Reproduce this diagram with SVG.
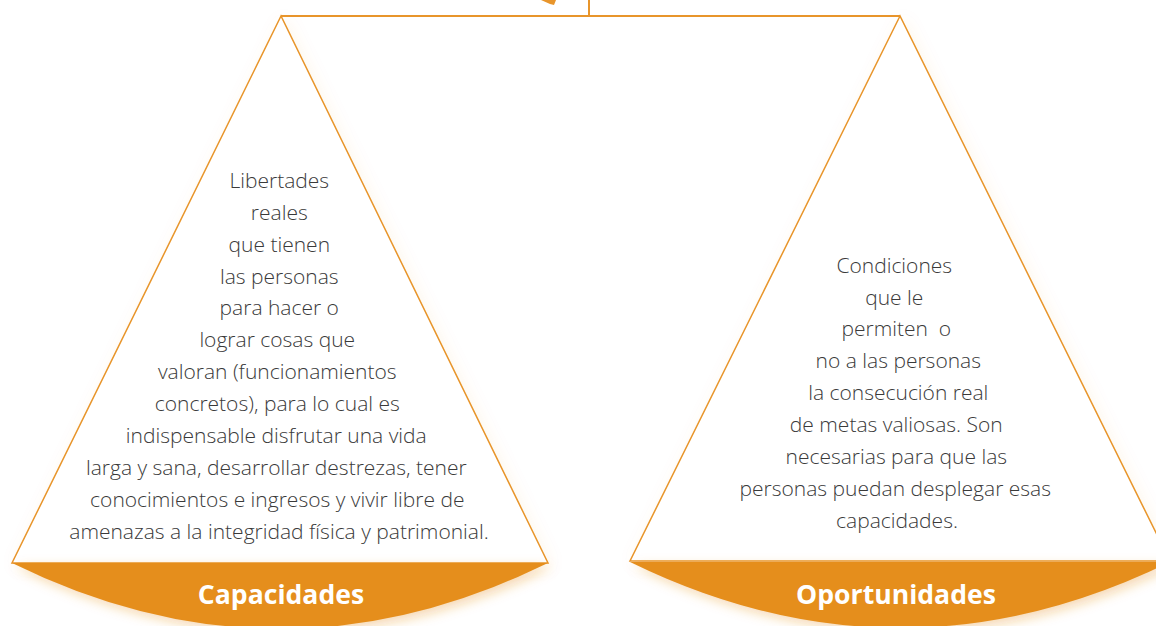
<svg xmlns="http://www.w3.org/2000/svg" width="1156" height="626" viewBox="0 0 1156 626">
  <defs>
    <filter id="shadow" x="-20%" y="-20%" width="140%" height="160%">
      <feGaussianBlur in="SourceAlpha" stdDeviation="6"/>
      <feOffset dx="4" dy="4" result="b"/>
      <feFlood flood-color="#e58e1c" flood-opacity="0.35"/>
      <feComposite in2="b" operator="in"/>
      <feMerge><feMergeNode/><feMergeNode in="SourceGraphic"/></feMerge>
    </filter>
    <filter id="glow" x="-10%" y="-10%" width="120%" height="120%">
      <feGaussianBlur in="SourceAlpha" stdDeviation="8"/>
      <feOffset dx="3" dy="3" result="b"/>
      <feFlood flood-color="#e58e1c" flood-opacity="0.08"/>
      <feComposite in2="b" operator="in"/>
      <feMerge><feMergeNode/><feMergeNode in="SourceGraphic"/></feMerge>
    </filter>
  </defs>
  <style>
    .line { fill: none; stroke: #e8952b; stroke-width: 2; }
    .tri { fill: #ffffff; stroke: #e8952b; stroke-width: 1.5; stroke-linejoin: miter; }
    .bowl { fill: #e58e1c; }
    .body { font-family: "Open Sans", "Liberation Sans", sans-serif; font-weight: 300; font-size: 21px; fill: #3a3a3a; text-anchor: middle; }
    .label { font-family: "Open Sans", "Liberation Sans", sans-serif; font-weight: 700; font-size: 26.6px; fill: #ffffff; text-anchor: middle; }
  </style>
  <rect width="1156" height="626" fill="#ffffff"/>

  <g id="connectors">
    <line class="line" x1="589" y1="0" x2="589" y2="16"/>
    <line class="line" x1="281" y1="16" x2="900" y2="16"/>
    <polygon points="541,0 556,0 554,5 550,4" fill="#e8952b"/>
  </g>

  <g id="capacidades">
    <polygon class="tri" filter="url(#glow)" points="281,16 12,563 548,563"/>
    <path class="bowl" filter="url(#shadow)" d="M12,563 Q280,695 548,563 Z"/>
    <text class="label" x="281" y="604">Capacidades</text>
    <text class="body">
      <tspan x="282" y="188">Libertades</tspan>
      <tspan x="282" y="220">reales</tspan>
      <tspan x="282" y="252">que tienen</tspan>
      <tspan x="282" y="284">las personas</tspan>
      <tspan x="282" y="315">para hacer o</tspan>
      <tspan x="280" y="347">lograr cosas que</tspan>
      <tspan x="280" y="379">valoran (funcionamientos</tspan>
      <tspan x="280" y="411">concretos), para lo cual es</tspan>
      <tspan x="279" y="443">indispensable disfrutar una vida</tspan>
      <tspan x="279" y="475">larga y sana, desarrollar destrezas, tener</tspan>
      <tspan x="280" y="507">conocimientos e ingresos y vivir libre de</tspan>
      <tspan x="279" y="539">amenazas a la integridad física y patrimonial.</tspan>
    </text>
  </g>

  <g id="oportunidades">
    <polygon class="tri" filter="url(#glow)" points="900,16 630,561 1170,561"/>
    <path class="bowl" filter="url(#shadow)" d="M630,562 Q900,694 1170,562 Z"/>
    <text class="label" x="896" y="604">Oportunidades</text>
    <text class="body">
      <tspan x="897" y="273">Condiciones</tspan>
      <tspan x="897" y="305">que le</tspan>
      <tspan x="899" y="336">permiten&#160; o</tspan>
      <tspan x="901" y="368">no a las personas</tspan>
      <tspan x="901" y="400">la consecución real</tspan>
      <tspan x="899" y="432">de metas valiosas. Son</tspan>
      <tspan x="899" y="464">necesarias para que las</tspan>
      <tspan x="898" y="496">personas puedan desplegar esas</tspan>
      <tspan x="897" y="528">capacidades.</tspan>
    </text>
  </g>
</svg>
